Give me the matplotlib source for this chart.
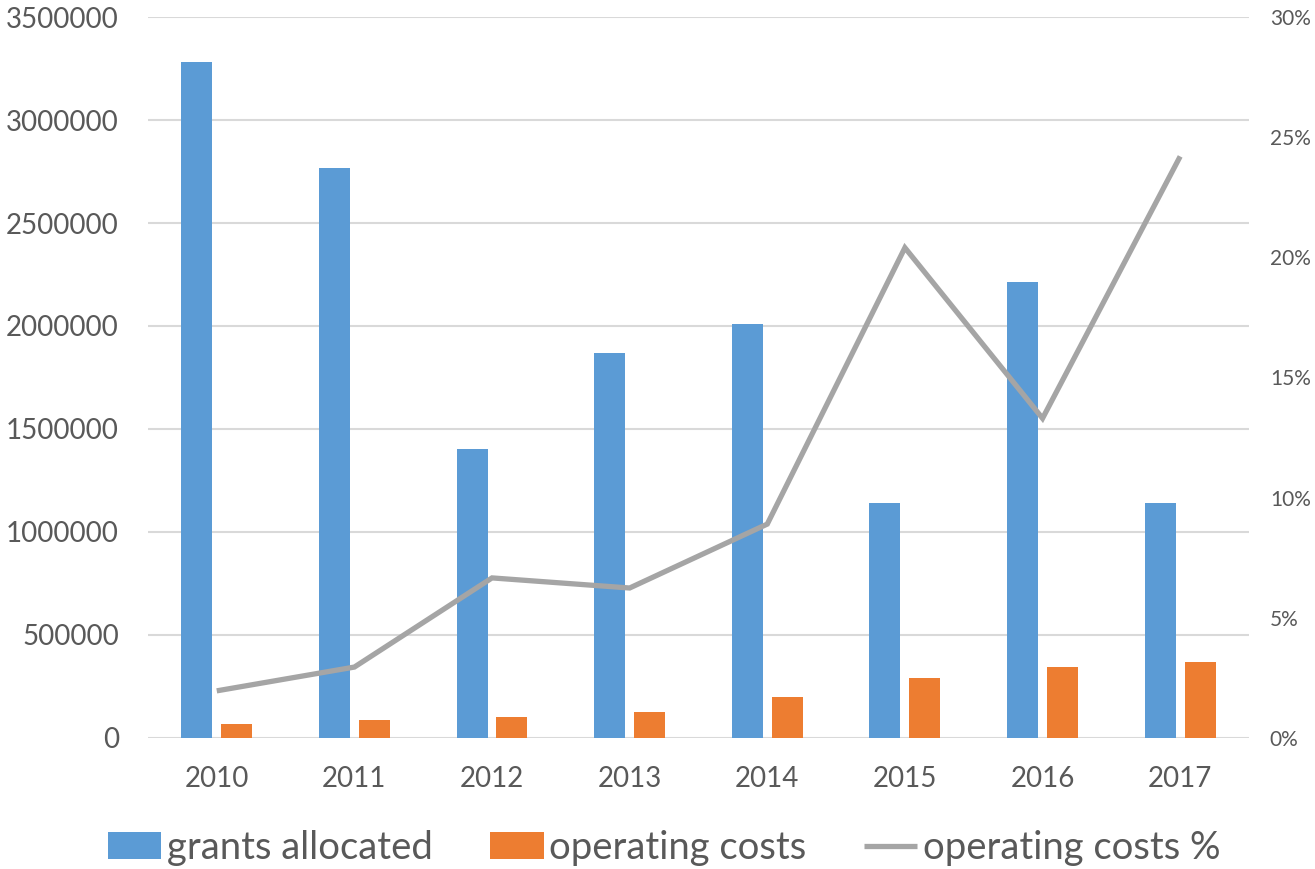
import numpy as np
import matplotlib.pyplot as plt
from matplotlib.ticker import FuncFormatter

plt.rcParams['font.family'] = ['Lato', 'DejaVu Sans']

years = ['2010', '2011', '2012', '2013', '2014', '2015', '2016', '2017']
grants = [3280000, 2765000, 1403000, 1868000, 2010000, 1141000, 2213000, 1141000]
op_costs = [68000, 87000, 102000, 126000, 199000, 291000, 345000, 369000]
op_pct = [1.96, 2.95, 6.66, 6.24, 8.9, 20.4, 13.3, 24.2]

text_col = '#595959'
grid_col = '#D9D9D9'

fig = plt.figure(figsize=(13.15, 8.69), dpi=100)
ax = fig.add_axes([0.1125, 0.1508, 0.8373, 0.8296])
ax2 = ax.twinx()

x = np.arange(len(years))
w = 0.225
gap = 0.065
b1 = ax.bar(x - (w + gap) / 2, grants, w, color='#5B9BD5', label='grants allocated', zorder=3)
b2 = ax.bar(x + (w + gap) / 2, op_costs, w, color='#ED7D31', label='operating costs', zorder=3)
ln, = ax2.plot(x, op_pct, color='#A5A5A5', lw=3.8, label='operating costs %',
               solid_capstyle='butt', solid_joinstyle='miter')

ax.set_xlim(-0.5, len(years) - 0.5)
ax.set_ylim(0, 3500000)
ax.set_yticks(np.arange(0, 3500001, 500000))
ax.yaxis.set_major_formatter(FuncFormatter(lambda v, p: f'{int(v)}'))
ax.grid(axis='y', color=grid_col, lw=1.5, zorder=0)
ax.set_axisbelow(True)
ax.set_xticks(x)
ax.set_xticklabels(years)

ax2.set_ylim(0, 30)
ax2.set_yticks(np.arange(0, 31, 5))
ax2.yaxis.set_major_formatter(FuncFormatter(lambda v, p: f'{int(v)}%'))

for a in (ax, ax2):
    for s in a.spines.values():
        s.set_visible(False)
ax.tick_params(axis='y', length=0, pad=21, labelsize=20, labelcolor=text_col)
ax.tick_params(axis='x', length=0, pad=20, labelsize=20, labelcolor=text_col)
ax2.tick_params(axis='y', length=0, pad=15, labelsize=15, labelcolor=text_col)

leg = fig.legend(handles=[b1, b2, ln], loc='center', bbox_to_anchor=(0.505, 0.024), ncol=3,
                 frameon=False, fontsize=27.5, handlelength=1.4, handletextpad=0.15,
                 columnspacing=1.5, handleheight=0.7)
for t in leg.get_texts():
    t.set_color(text_col)

fig.savefig('out.png', dpi=100)
